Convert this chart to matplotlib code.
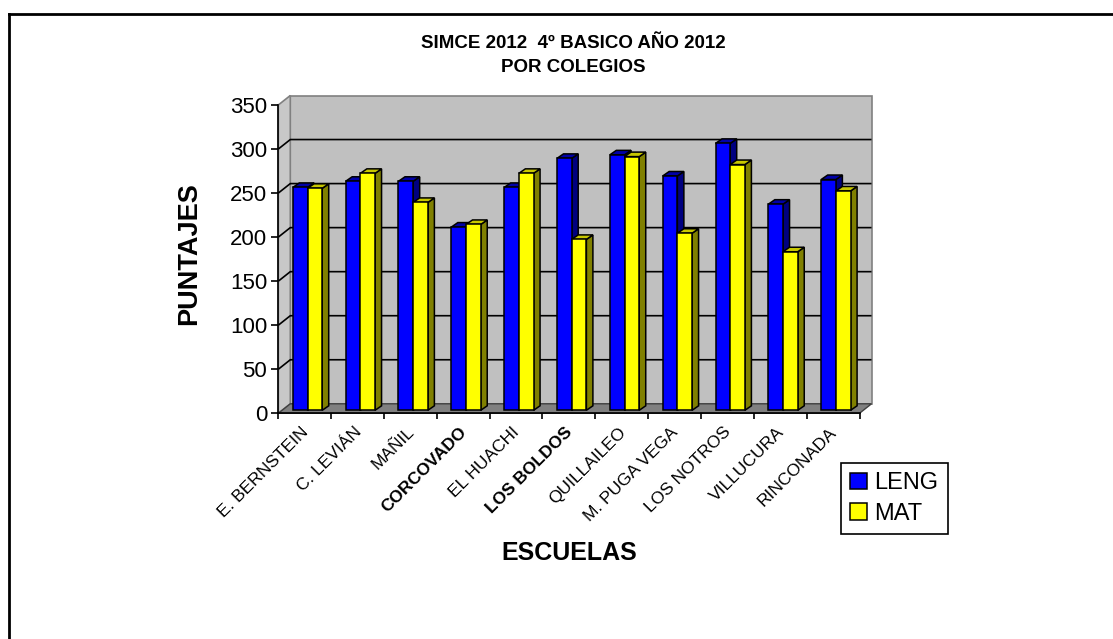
import matplotlib
matplotlib.use('Agg')
import matplotlib.pyplot as plt
from matplotlib.patches import Polygon
from matplotlib.lines import Line2D
from matplotlib.transforms import ScaledTranslation
import numpy as np

plt.rcParams['font.family'] = ['Liberation Sans', 'DejaVu Sans']

# ---- data ----
schools = ['E. BERNSTEIN', 'C. LEVIÁN', 'MAÑIL', 'CORCOVADO', 'EL HUACHI',
           'LOS BOLDOS', 'QUILLAILEO', 'M. PUGA VEGA', 'LOS NOTROS',
           'VILLUCURA', 'RINCONADA']
leng = [253, 260, 260, 208, 253, 286, 290, 266, 303, 234, 262]
mat = [252, 269, 236, 211, 269, 194, 288, 201, 279, 180, 249]
series_names = ['LENG', 'MAT']
y_ticks = [0, 50, 100, 150, 200, 250, 300, 350]
title_text = 'SIMCE 2012  4º BASICO AÑO 2012\nPOR COLEGIOS'
x_label = 'ESCUELAS'
y_label = 'PUNTAJES'
bold_labels = ['CORCOVADO', 'LOS BOLDOS']

W, H = 1113, 639
fig = plt.figure(figsize=(W / 100, H / 100), dpi=100)


def fx(px):
    return px / W


def fy(py):
    return 1 - py / H


AX_L, AX_R, AX_B, AX_T = 278.3, 859.5, 413.3, 105.0
ax = fig.add_axes([fx(AX_L), fy(AX_B), (AX_R - AX_L) / W, (AX_B - AX_T) / H])
ax.patch.set_visible(False)
n = len(schools)
ymax = y_ticks[-1]
ax.set_xlim(-0.5, n - 0.5)
ax.set_ylim(0, ymax)

ux = n / (AX_R - AX_L)        # data units per pixel (x)
uy = ymax / (AX_B - AX_T)     # data units per pixel (y)
WX, WY = 12 * ux, 9.5 * uy    # wall depth
x0, x1 = -0.5, n - 0.5

# walls and floor
ax.add_patch(Polygon([(x0 + WX, WY), (x1 + WX, WY), (x1 + WX, ymax + WY), (x0 + WX, ymax + WY)],
                     closed=True, fc='#c0c0c0', ec='#808080', lw=1.2, zorder=0.5, clip_on=False))
ax.add_patch(Polygon([(x0, 0), (x0 + WX, WY), (x0 + WX, ymax + WY), (x0, ymax)],
                     closed=True, fc='#c8c8c8', ec='#808080', lw=1.2, zorder=0.5, clip_on=False))
ax.add_patch(Polygon([(x0, 0), (x1, 0), (x1 + WX, WY), (x0 + WX, WY)],
                     closed=True, fc='#808080', ec='#404040', lw=1.0, zorder=0.6, clip_on=False))
for v in y_ticks[1:-1]:
    ax.plot([x0, x0 + WX, x1 + WX], [v, v + WY, v + WY], color='black', lw=1.2,
            zorder=0.8, clip_on=False, solid_capstyle='butt')

# bars
idx = np.arange(n)
bw = 14.7 * ux
c = 2.8 * ux
BX, BY = 6.5 * ux, 4.5 * uy
b0 = 3.0 * uy

styles = [('#0000ff', '#000080', '#0000a8'), ('#ffff00', '#808000', '#c8c800')]
bars_l = ax.bar(idx + c, leng, width=-bw, align='edge', bottom=b0, color=styles[0][0],
                edgecolor='black', lw=1.1, label=series_names[0], clip_on=False)
bars_m = ax.bar(idx + c, mat, width=bw, align='edge', bottom=b0, color=styles[1][0],
                edgecolor='black', lw=1.1, label=series_names[1], clip_on=False)

for k, (bars, st) in enumerate([(bars_l, styles[0]), (bars_m, styles[1])]):
    zb = 2.0 + 0.2 * k
    for p in bars.patches:
        xl = p.get_x()
        xr = xl + p.get_width()
        if xr < xl:
            xl, xr = xr, xl
        yb = p.get_y()
        yt = yb + p.get_height()
        p.set_zorder(zb + 0.1)
        ax.add_patch(Polygon([(xr, yb), (xr + BX, yb + BY), (xr + BX, yt + BY), (xr, yt)],
                             closed=True, fc=st[1], ec='black', lw=1.1, zorder=zb, clip_on=False))
        ax.add_patch(Polygon([(xl, yt), (xr, yt), (xr + BX, yt + BY), (xl + BX, yt + BY)],
                             closed=True, fc=st[2], ec='black', lw=1.1, zorder=zb, clip_on=False))

# axes
for s in ['top', 'right']:
    ax.spines[s].set_visible(False)
for s in ['left', 'bottom']:
    ax.spines[s].set_linewidth(1.2)
    ax.spines[s].set_zorder(3)
ax.set_yticks(y_ticks)
ax.tick_params(axis='y', labelsize=16, length=5, width=1.2, pad=3)
ax.set_xticks(np.arange(n + 1) - 0.5)
ax.set_xticklabels([])
ax.tick_params(axis='x', which='major', length=4.5, width=1.2, direction='out')
ax.set_xticks(idx, minor=True)
ax.set_xticklabels(schools, minor=True, rotation=45, ha='right', va='top',
                   rotation_mode='anchor', fontsize=12.5)
ax.tick_params(axis='x', which='minor', length=0, pad=8)
for lab in ax.get_xticklabels(minor=True):
    lab.set_transform(lab.get_transform() + ScaledTranslation(-4 / 100, 0, fig.dpi_scale_trans))
    if lab.get_text() in bold_labels:
        lab.set_fontweight('bold')

# texts
t1, t2 = title_text.split('\n')
fig.text(fx(573), fy(44), t1, ha='center', va='center', fontsize=13.5, fontweight='bold')
fig.text(fx(573), fy(67), t2, ha='center', va='center', fontsize=13.5, fontweight='bold')
fig.text(fx(189), fy(254), y_label, rotation=90, ha='center', va='center',
         fontsize=19.5, fontweight='bold')
fig.text(fx(569), fy(553), x_label, ha='center', va='center', fontsize=18, fontweight='bold')

leg = fig.legend(handles=[bars_l, bars_m], loc='upper left',
                 bbox_to_anchor=(fx(841), fy(463)), frameon=True, fancybox=False,
                 edgecolor='black', framealpha=1, fontsize=17, handlelength=0.7,
                 handleheight=0.7, handletextpad=0.3, labelspacing=0.35, borderpad=0.4,
                 borderaxespad=0)
leg.get_frame().set_linewidth(1.2)

# outer frame (left and top edges)
fig.add_artist(Line2D([fx(9), fx(9)], [fy(14), 0], color='black', lw=2, transform=fig.transFigure))
fig.add_artist(Line2D([fx(9), 1], [fy(14), fy(14)], color='black', lw=2, transform=fig.transFigure))

fig.savefig('out.png', dpi=100)
